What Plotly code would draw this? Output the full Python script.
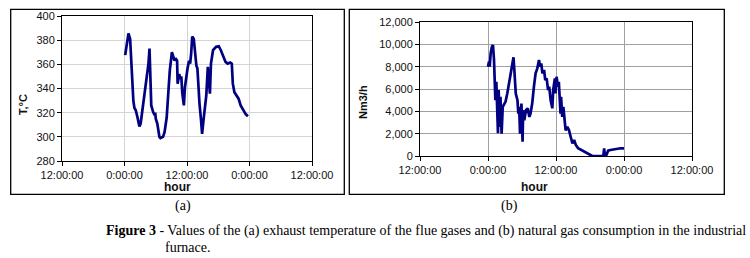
import plotly.graph_objects as go

# ---- data ----
temp_hours = [0.13, 0.76, 1.08, 1.4, 1.7, 1.9, 2.16, 2.5, 2.86, 3.1, 3.6, 4.1, 4.6, 4.8, 4.95, 5.14,
              5.5, 5.8, 5.9, 6.0, 6.3, 6.7, 6.9, 7.4, 7.7, 8.1, 8.4, 8.7, 9.1, 9.3, 9.6, 9.8, 10.1,
              10.2, 10.5, 10.7, 10.9, 11.1, 11.4, 11.6, 11.9, 12.1, 12.4, 12.6, 12.8, 13.0, 13.3,
              13.5, 13.8, 14.0, 14.2, 14.4, 14.7, 14.9, 15.2, 15.4, 15.7, 16.0, 16.2, 16.4, 16.6,
              17.0, 17.6, 18.1, 18.5, 19.0, 19.4, 19.8, 20.3, 20.6, 20.8, 21.1, 21.5, 21.9, 22.3,
              22.8, 23.3, 23.7]
temp_values = [367.6, 385.5, 381, 346.8, 330, 324, 322, 316, 308.6, 311, 327, 344, 360.6, 373, 355, 326,
               320.5, 318, 320, 315, 311, 300, 299, 300, 304, 316, 335.7, 355, 370, 367.5, 363, 365, 363,
               344, 352, 348, 350, 336, 326, 341, 352, 356.5, 363, 360.6, 369, 383, 381,
               369, 359, 356.5, 341, 327.5, 313.6, 302.5, 315, 322, 334, 358, 341, 335.7, 360.6,
               371.7, 374.5, 375, 371.7, 366, 362, 360.6, 361.5, 360.6, 344, 337, 334, 331.6, 326,
               322, 318.6, 317]

gas_hours = [0.0, 0.18, 0.3, 0.47, 0.7, 0.88, 1.06, 1.18, 1.3, 1.47, 1.65, 1.76, 1.88, 2.0, 2.1, 2.2,
             2.4, 2.6, 2.8, 3.1, 3.4, 3.7, 4.0, 4.3, 4.5, 4.65, 4.9, 5.2, 5.35, 5.5, 5.65, 5.8, 5.9,
             6.1, 6.2, 6.4, 6.7, 7.0, 7.3, 7.5, 7.8, 8.1, 8.4, 8.7, 9.0, 9.2, 9.4, 9.6, 9.9, 10.1,
             10.35, 10.6, 10.8, 11.06, 11.35, 11.5, 11.8, 11.9, 12.1, 12.35, 12.5, 12.7, 12.8, 12.9,
             13.1, 13.3, 13.5, 13.7, 14.0, 14.3, 14.6, 14.9, 15.2, 15.5, 15.9, 16.4, 17.0, 17.6,
             18.1, 18.4, 19.9, 20.35, 20.5, 20.6, 20.9, 21.2, 21.6, 22.2, 22.8, 23.4, 24.0]
gas_values = [8000, 8450, 8000, 9200, 9800, 9940, 8600, 6800, 5000, 6650, 4100, 2030, 5900, 3500, 2600, 5300,
              2000, 4400, 4570, 4870, 5600, 6500, 7400, 8300, 8840, 7700, 5600, 5000, 3800, 4400, 2000, 3200, 4700,
              1280, 4100, 3200, 4100, 4270, 3500, 3800, 4700, 6200, 7400, 7850, 8600, 8000, 8300, 7400, 7700, 6800,
              6950, 5900, 6200, 5000, 4270, 5900, 6950, 5600, 7100, 6200, 6650, 4700, 3800, 5300,
              3500, 4400, 3200, 2300, 2600, 2300, 1700, 1130, 1430, 985, 690, 540, 390, 240,
              90, 0, 0, 0, 690, 100, 100, 480, 540, 600, 630, 690, 690]

x_tickvals = [-12, 0, 12, 24, 36]
x_ticktext = ["12:00:00", "0:00:00", "12:00:00", "0:00:00", "12:00:00"]
temp_ticks = [280, 300, 320, 340, 360, 380, 400]
gas_ticks = [0, 2000, 4000, 6000, 8000, 10000, 12000]
gas_ticktext = ["0", "2,000", "4,000", "6,000", "8,000", "10,000", "12,000"]

W, H = 750, 258
def px(x): return x / W
def py(y): return 1 - y / H

line_color = "#000080"
sans = "Liberation Sans, Arial, sans-serif"
serif = "Liberation Serif, Times New Roman, serif"

fig = go.Figure()
fig.add_trace(go.Scatter(x=temp_hours, y=temp_values, mode="lines",
                         line=dict(color=line_color, width=2.7), xaxis="x", yaxis="y",
                         showlegend=False, hoverinfo="skip"))
fig.add_trace(go.Scatter(x=gas_hours, y=gas_values, mode="lines",
                         line=dict(color=line_color, width=2.7), xaxis="x2", yaxis="y2",
                         showlegend=False, hoverinfo="skip"))

common_axis = dict(showline=True, mirror=True, linecolor="black", linewidth=1,
                   ticks="outside", ticklen=4, tickcolor="black", zeroline=False, automargin=False,
                   tickfont=dict(family=sans, size=11, color="#111"))

fig.update_layout(
    width=W, height=H, margin=dict(l=0, r=0, t=0, b=0, autoexpand=False),
    paper_bgcolor="white", plot_bgcolor="white",
    xaxis=dict(domain=[px(62), px(312)], range=[-12, 36], tickvals=x_tickvals, ticktext=x_ticktext,
               gridcolor="#d4d4d4", anchor="y", **common_axis),
    yaxis=dict(domain=[py(161), py(16)], range=[280, 400], tickvals=temp_ticks,
               gridcolor="#d4d4d4", anchor="x", **common_axis),
    xaxis2=dict(domain=[px(420), px(692)], range=[-12, 36], tickvals=x_tickvals, ticktext=x_ticktext,
                gridcolor="#a0a0a0", anchor="y2", **common_axis),
    yaxis2=dict(domain=[py(156), py(22)], range=[0, 12000], tickvals=gas_ticks, ticktext=gas_ticktext,
                gridcolor="#a0a0a0", anchor="x2", **common_axis),
    shapes=[
        dict(type="rect", xref="paper", yref="paper", x0=px(10.7), x1=px(344.3), y0=py(194.3), y1=py(9.3),
             line=dict(color="black", width=1.3)),
        dict(type="rect", xref="paper", yref="paper", x0=px(349.3), x1=px(724.3), y0=py(194.3), y1=py(9.3),
             line=dict(color="black", width=1.3)),
    ],
)

annots = [
    dict(text="<b>hour</b>", x=px(177), y=py(187), font=dict(family=sans, size=12, color="#111")),
    dict(text="<b>hour</b>", x=px(534), y=py(187), font=dict(family=sans, size=12, color="#111")),
    dict(text="<b>T,°C</b>", x=px(23), y=py(105), textangle=-90, font=dict(family=sans, size=11, color="#111")),
    dict(text="<b>Nm3/h</b>", x=px(363), y=py(102), textangle=-90, font=dict(family=sans, size=11, color="#111")),
    dict(text="(a)", x=px(183), y=py(206), font=dict(family=serif, size=14, color="black")),
    dict(text="(b)", x=px(509), y=py(206), font=dict(family=serif, size=14, color="black")),
]
for a in annots:
    fig.add_annotation(xref="paper", yref="paper", showarrow=False, xanchor="center", yanchor="middle", **a)

fig.add_annotation(xref="paper", yref="paper", showarrow=False, xanchor="right", yanchor="middle",
                   x=px(748), y=py(231),
                   text="<b>Figure 3</b> - Values of the (a) exhaust temperature of the flue gases and (b) natural gas consumption in the industrial",
                   font=dict(family=serif, size=14, color="black"))
fig.add_annotation(xref="paper", yref="paper", showarrow=False, xanchor="left", yanchor="middle",
                   x=px(163), y=py(247), text="furnace.",
                   font=dict(family=serif, size=14, color="black"))

fig.write_html("out.html", config={"displayModeBar": False, "staticPlot": True},
               post_script="document.body.style.margin='0';")
